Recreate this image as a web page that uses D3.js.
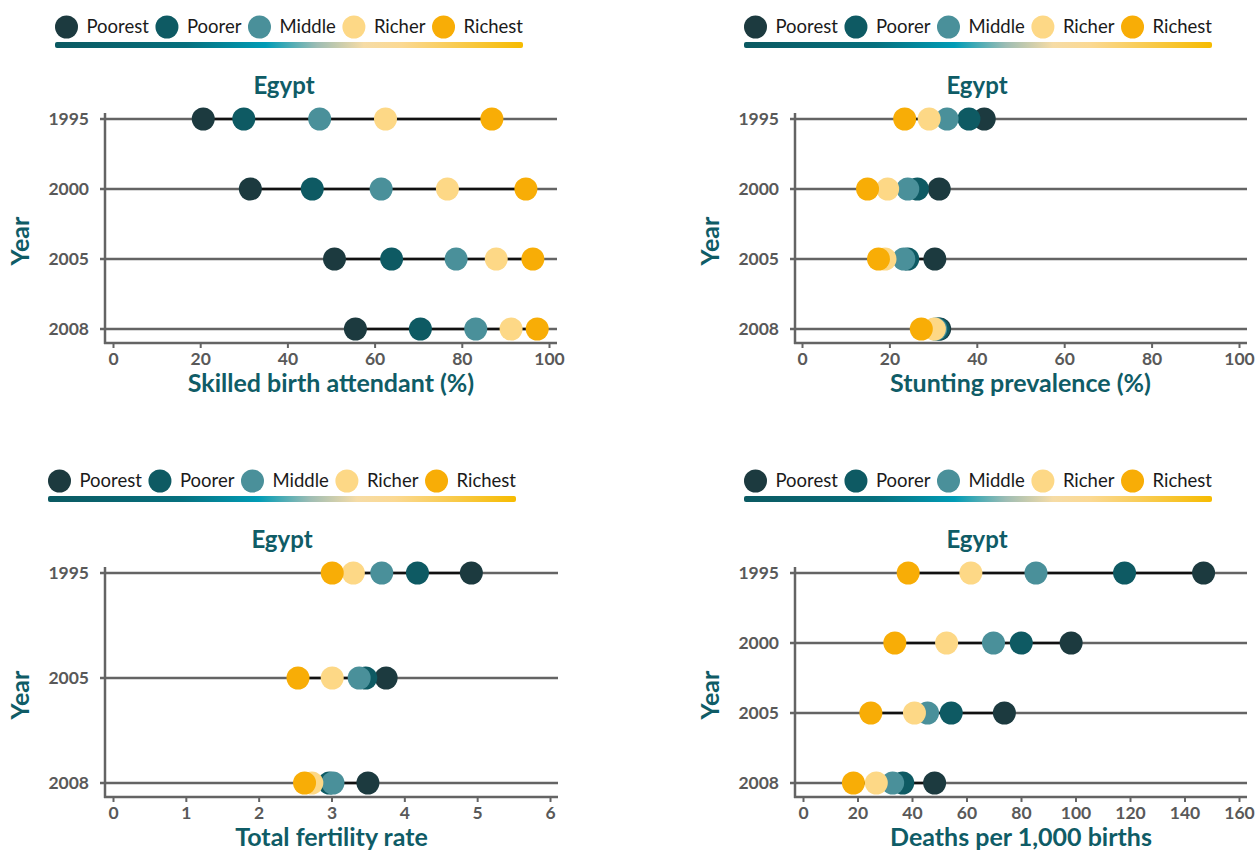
<!DOCTYPE html>
<html>
<head>
<meta charset="utf-8">
<script src="https://cdn.jsdelivr.net/npm/d3@7"></script>
<style>
  body { margin: 0; background: #fff; }
  text { font-family: Lato, "Open Sans", sans-serif; }
</style>
</head>
<body>
<script>
// wealth quintiles, drawn in this order (richest ends up on top)
const groups = ["Poorest", "Poorer", "Middle", "Richer", "Richest"];
const groupColors = ["#1c3a3f", "#0e5a63", "#4a909a", "#fdd886", "#f8ad06"];

// skilled birth attendant (%)
const sbaYears = ["1995", "2000", "2005", "2008"];
const sbaValues = [
  [20.7, 30.0, 47.4, 62.5, 86.9],
  [31.5, 45.7, 61.5, 76.7, 94.7],
  [50.8, 63.9, 78.7, 87.9, 96.3],
  [55.6, 70.5, 83.2, 91.3, 97.3]
];
const sbaTicks = [0, 20, 40, 60, 80, 100];

// stunting prevalence (%)
const stuntYears = ["1995", "2000", "2005", "2008"];
const stuntValues = [
  [41.7, 38.2, 33.2, 29.1, 23.5],
  [31.4, 26.4, 24.2, 19.6, 15.0],
  [30.4, 24.2, 23.3, 19.0, 17.5],
  [31.5, 31.2, 30.6, 30.3, 27.3]
];
const stuntTicks = [0, 20, 40, 60, 80, 100];

// total fertility rate
const tfrYears = ["1995", "2005", "2008"];
const tfrValues = [
  [4.92, 4.18, 3.69, 3.30, 3.01],
  [3.75, 3.47, 3.38, 3.01, 2.54],
  [3.50, 2.97, 3.02, 2.73, 2.63]
];
const tfrTicks = [0, 1, 2, 3, 4, 5, 6];

// under-5 deaths per 1,000 births
const mortYears = ["1995", "2000", "2005", "2008"];
const mortValues = [
  [147.0, 118.0, 85.5, 61.6, 38.6],
  [98.4, 80.1, 69.9, 52.7, 33.7],
  [73.9, 54.4, 45.7, 40.9, 24.9],
  [48.3, 36.6, 32.9, 26.9, 18.5]
];
const mortTicks = [0, 20, 40, 60, 80, 100, 120, 140, 160];

const teal = "#0f5c66";
const grey = "#646464";
const tickGrey = "#595959";

const panels = [
  {years: sbaYears, values: sbaValues, ticks: sbaTicks, label: "Skilled birth attendant (%)",
   ox: 0, oy: 0, legX: [55, 523], titleX: 284, axisX: 105, xRange: [113, 549]},
  {years: stuntYears, values: stuntValues, ticks: stuntTicks, label: "Stunting prevalence (%)",
   ox: 690, oy: 0, legX: [744, 1212], titleX: 977, axisX: 795, xRange: [802, 1239]},
  {years: tfrYears, values: tfrValues, ticks: tfrTicks, label: "Total fertility rate",
   ox: 0, oy: 454, legX: [48, 516], titleX: 282, axisX: 105, xRange: [113, 550]},
  {years: mortYears, values: mortValues, ticks: mortTicks, label: "Deaths per 1,000 births",
   ox: 690, oy: 454, legX: [744, 1212], titleX: 977, axisX: 795, xRange: [803, 1239]}
];

const svg = d3.select("body").append("svg")
    .attr("width", 1255)
    .attr("height", 850);

const grad = svg.append("defs").append("linearGradient")
    .attr("id", "wealthGrad");
[[0, "#0b5961"], [0.28, "#06707e"], [0.45, "#009cb6"], [0.56, "#9ebdb4"],
 [0.66, "#f6dca6"], [0.74, "#fbd993"], [1, "#f6bb00"]]
  .forEach(s => grad.append("stop").attr("offset", s[0]).attr("stop-color", s[1]));

panels.forEach(drawPanel);

function drawPanel(p) {
  const g = svg.append("g").attr("transform", `translate(0, ${p.oy})`);
  const r = 11.5;

  // legend: circles + labels, spread to fill the gradient bar
  const leg = g.append("g");
  const labels = leg.selectAll("text")
      .data(groups)
      .join("text")
      .attr("font-size", 18.5)
      .attr("fill", "#1a1a1a")
      .attr("y", 33)
      .text(d => d);
  const tw = labels.nodes().map(n => n.getComputedTextLength());
  const textGap = 8.5;
  const natural = d3.sum(tw) + groups.length * (2 * r + textGap);
  const gap = (p.legX[1] - p.legX[0] - natural) / (groups.length - 1);
  let pos = [];
  let cur = p.legX[0];
  tw.forEach(w => {
    pos.push(cur + r);
    cur += 2 * r + textGap + w + gap;
  });
  labels.attr("x", (d, i) => pos[i] + r + textGap);
  leg.selectAll("circle")
      .data(groups)
      .join("circle")
      .attr("cx", (d, i) => pos[i])
      .attr("cy", 27)
      .attr("r", r)
      .attr("fill", (d, i) => groupColors[i]);
  g.append("rect")
      .attr("x", p.legX[0])
      .attr("y", 42)
      .attr("width", p.legX[1] - p.legX[0])
      .attr("height", 6)
      .attr("rx", 2)
      .attr("fill", "url(#wealthGrad)");

  const xScale = d3.scaleLinear()
      .domain([p.ticks[0], p.ticks[p.ticks.length - 1]])
      .range(p.xRange);
  const yScale = d3.scalePoint()
      .domain(p.years)
      .range([119, 329]);
  const right = p.xRange[1] + 8;
  const xAxisY = 343;

  // title
  g.append("text")
      .attr("x", p.titleX)
      .attr("y", 94)
      .attr("text-anchor", "middle")
      .attr("font-size", 24)
      .attr("font-weight", "bold")
      .attr("fill", teal)
      .text("Egypt");

  // horizontal year lines
  g.append("g").selectAll("line")
      .data(p.years)
      .join("line")
      .attr("x1", p.axisX - 5)
      .attr("x2", right)
      .attr("y1", d => yScale(d))
      .attr("y2", d => yScale(d))
      .attr("stroke", grey)
      .attr("stroke-width", 2.5);

  // axes
  g.append("line")
      .attr("x1", p.axisX).attr("x2", p.axisX)
      .attr("y1", 113).attr("y2", xAxisY + 1)
      .attr("stroke", grey).attr("stroke-width", 2.5);
  g.append("line")
      .attr("x1", p.axisX - 1).attr("x2", right)
      .attr("y1", xAxisY).attr("y2", xAxisY)
      .attr("stroke", grey).attr("stroke-width", 2.5);

  const xAxis = d3.axisBottom(xScale)
      .tickValues(p.ticks)
      .tickFormat(d3.format("d"))
      .tickSize(5)
      .tickPadding(5);
  const drawX = g.append("g")
      .attr("transform", `translate(0, ${xAxisY})`)
      .call(xAxis);
  drawX.select(".domain").remove();
  drawX.selectAll(".tick line").attr("stroke", grey).attr("stroke-width", 2);
  drawX.selectAll(".tick text")
      .attr("fill", tickGrey)
      .attr("font-size", 17.5)
      .attr("font-weight", "bold")
      .attr("font-family", "Lato, sans-serif");

  const yAxis = d3.axisLeft(yScale).tickSize(0).tickPadding(16);
  const drawY = g.append("g")
      .attr("transform", `translate(${p.axisX}, 0)`)
      .call(yAxis);
  drawY.select(".domain").remove();
  drawY.selectAll(".tick text")
      .attr("fill", tickGrey)
      .attr("font-size", 17.5)
      .attr("font-weight", "bold")
      .attr("font-family", "Lato, sans-serif");

  // range line for each year
  g.append("g").selectAll("line")
      .data(p.years)
      .join("line")
      .attr("x1", (d, i) => xScale(d3.min(p.values[i])))
      .attr("x2", (d, i) => xScale(d3.max(p.values[i])))
      .attr("y1", d => yScale(d))
      .attr("y2", d => yScale(d))
      .attr("stroke", "#111")
      .attr("stroke-width", 2.5);

  // dots
  const dots = [];
  p.years.forEach((yr, i) => {
    groups.forEach((grp, j) => dots.push({year: yr, group: j, value: p.values[i][j]}));
  });
  g.append("g").selectAll("circle")
      .data(dots)
      .join("circle")
      .attr("cx", d => xScale(d.value))
      .attr("cy", d => yScale(d.year))
      .attr("r", r)
      .attr("fill", d => groupColors[d.group]);

  // axis titles
  g.append("text")
      .attr("x", (p.xRange[0] + p.xRange[1]) / 2)
      .attr("y", 392)
      .attr("text-anchor", "middle")
      .attr("font-size", 25)
      .attr("font-weight", "bold")
      .attr("fill", teal)
      .text(p.label);
  g.append("text")
      .attr("transform", `translate(${p.ox + 29}, 241) rotate(-90)`)
      .attr("text-anchor", "middle")
      .attr("font-size", 25)
      .attr("font-weight", "bold")
      .attr("fill", teal)
      .text("Year");
}
</script>
</body>
</html>
